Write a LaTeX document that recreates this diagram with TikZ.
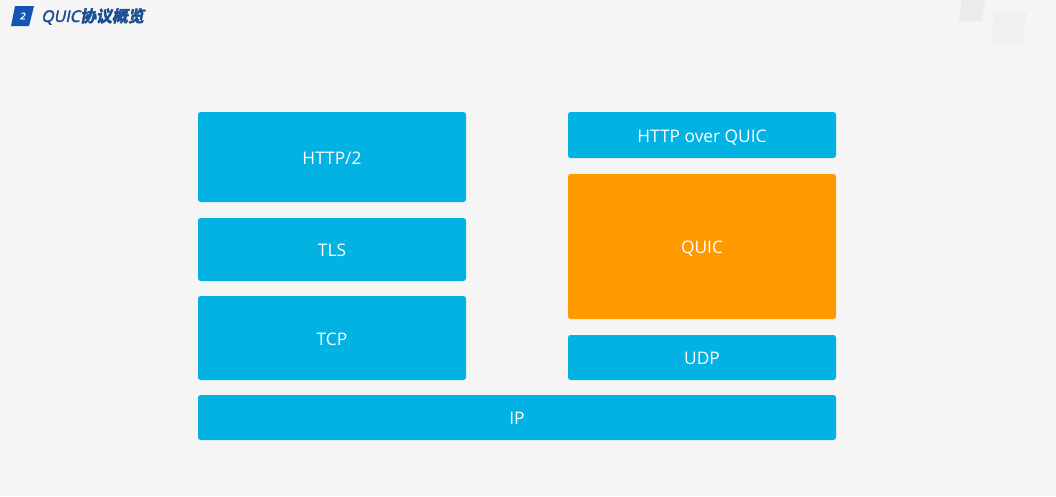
\documentclass[tikz,border=0pt]{standalone}
\usepackage{fontspec}
\setmainfont{Open Sans}
\newfontfamily\titlecjk[FakeSlant=0.2,FakeBold=3]{Noto Sans CJK SC Bold}
\newfontfamily\titlelat[FakeSlant=0.2,FakeBold=2.5]{Open Sans}
\definecolor{bgc}{HTML}{F5F5F5}
\definecolor{cyanbox}{HTML}{02B2E2}
\definecolor{orangebox}{HTML}{FF9900}
\definecolor{titleblue}{HTML}{1B4F8F}
\definecolor{badgeblue}{HTML}{1255B5}
\tikzset{
  x=0.75pt,y=-0.75pt,
  layerbox/.style={rectangle,rounded corners=2pt,fill=cyanbox,text=white,inner sep=0pt,text height=10.6pt,text depth=0pt,font=\fontsize{13pt}{15pt}\selectfont},
  quicbox/.style={layerbox,fill=orangebox},
}
% \lay{name}{x1}{y1}{x2}{y2}{style}{text}
\newcommand{\lay}[7]{%
  \pgfmathsetmacro{\laycx}{(#2+#4)/2}\pgfmathsetmacro{\laycy}{(#3+#5)/2}%
  \pgfmathsetmacro{\laywd}{(#4-#2)*0.75}\pgfmathsetmacro{\layht}{(#5-#3)*0.75}%
  \node[#6,minimum width=\laywd pt,minimum height=\layht pt] (#1) at (\laycx,\laycy) {#7};}
\begin{document}
\begin{tikzpicture}
\useasboundingbox (0,0) rectangle (1056,496);
\fill[bgc] (0,0) rectangle (1056,496);
% decoration top right
\fill[black!8] (962,0) -- (985,0) -- (982,21) -- (959,21) -- cycle;
\fill[black!6] (994,12) -- (1027,12) -- (1022,44) -- (991,44) -- cycle;
% title
\fill[badgeblue] (15,6) -- (34,6) -- (29,26) -- (11,26) -- cycle;
\node[text=white,inner sep=0pt,font=\fontsize{7pt}{8pt}\titlelat] (badge) at (22.5,16) {2};
\node[anchor=west,inner sep=0pt,text=titleblue,font=\fontsize{12pt}{14pt}\titlelat] (title) at (41,16.5) {QUIC{\titlecjk 协议概览}};
% layers
\lay{http2}{198}{112}{466}{202}{layerbox}{HTTP/2}
\lay{tls}{198}{218}{466}{281}{layerbox}{TLS}
\lay{tcp}{198}{296}{466}{380}{layerbox}{TCP}
\lay{ip}{198}{395}{836}{440}{layerbox}{IP}
\lay{hoq}{568}{112}{836}{158}{layerbox}{HTTP over QUIC}
\lay{quic}{568}{174}{836}{319}{quicbox}{QUIC}
\lay{udp}{568}{335}{836}{380}{layerbox}{UDP}
\end{tikzpicture}
\end{document}
